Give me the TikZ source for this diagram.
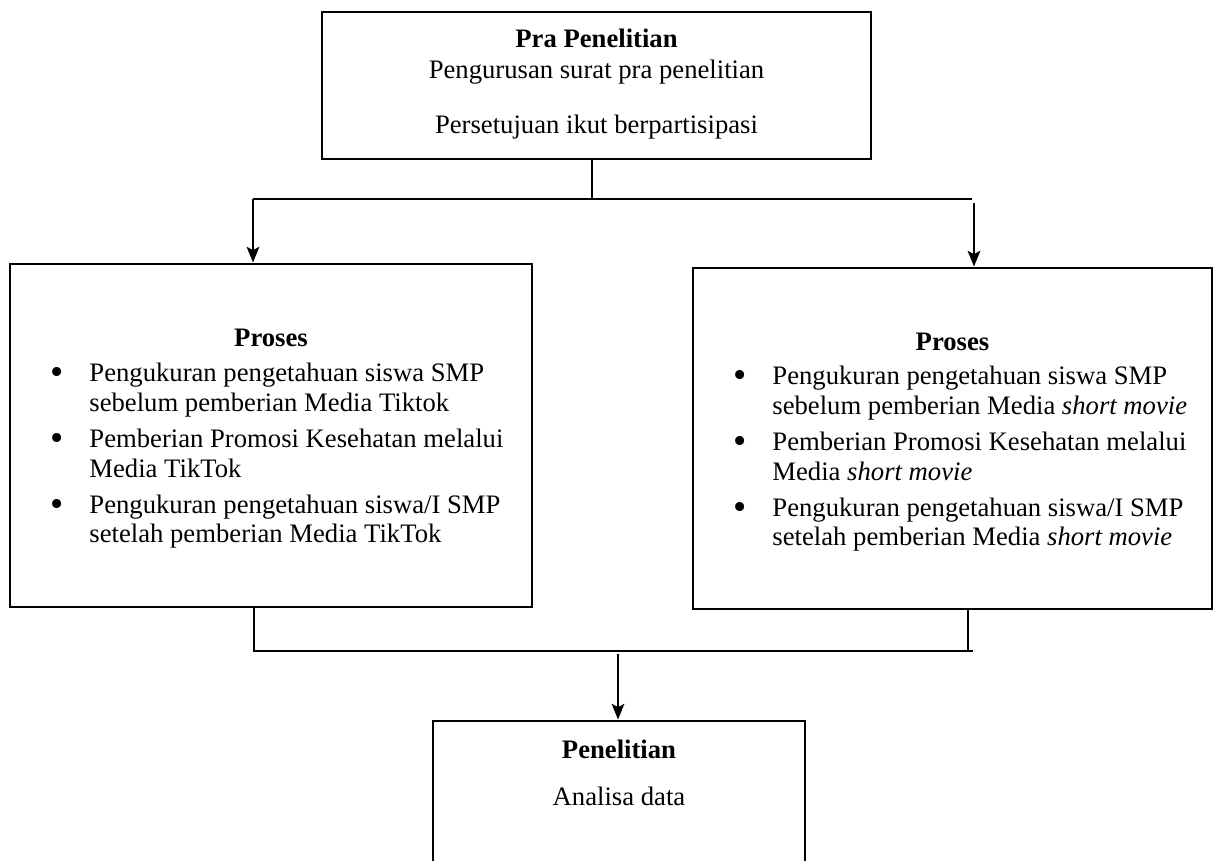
\documentclass[tikz,border=0pt]{standalone}
\usepackage{fontspec}
\setmainfont{Liberation Serif}
\usetikzlibrary{arrows.meta,fit}
\begin{document}
\begin{tikzpicture}[x=0.45pt,y=-0.45pt,
  box/.style={draw, line width=1.3pt, inner sep=0pt},
  conn/.style={line width=0.85pt},
  arr/.style={line width=1.2pt, -{Stealth[length=7pt,width=5.6pt,inset=1.4pt]}},
  txt/.style={font=\fontsize{12}{13.5}\selectfont, inner sep=0pt},
  bold/.style={font=\fontsize{12}{13.5}\selectfont\bfseries, inner sep=0pt},
  bul/.style={font=\fontsize{17}{17}\selectfont, inner sep=0pt},
]
\useasboundingbox (0,0) rectangle (1213,861);
\clip (0,0) rectangle (1213,861);

% boxes
\node[box, fit={(322,12) (871,159)}] (top) {};
\node[box, fit={(10,264) (532,607)}] (left) {};
\node[box, fit={(693,268) (1212,609)}] (right) {};
\node[box, fit={(433,721) (805,905)}] (bottom) {};

% top box text
\node[bold, anchor=base] (t1) at (596.5,47) {Pra Penelitian};
\node[txt, anchor=base] (t2) at (596.5,78) {Pengurusan surat pra penelitian};
\node[txt, anchor=base] (t3) at (596.5,133) {Persetujuan ikut berpartisipasi};

% left box text
\node[bold, anchor=base] (lp) at (271,346) {Proses};
\node[bul, anchor=base] (lb1) at (57,384) {•};
\node[bul, anchor=base] (lb2) at (57,450) {•};
\node[bul, anchor=base] (lb3) at (57,516) {•};
\node[txt, anchor=base west] (l1) at (89,381) {Pengukuran pengetahuan siswa SMP};
\node[txt, anchor=base west] (l2) at (89,411) {sebelum pemberian Media Tiktok};
\node[txt, anchor=base west] (l3) at (89,447) {Pemberian Promosi Kesehatan melalui};
\node[txt, anchor=base west] (l4) at (89,477) {Media TikTok};
\node[txt, anchor=base west] (l5) at (89,513) {Pengukuran pengetahuan siswa/I SMP};
\node[txt, anchor=base west] (l6) at (89,542) {setelah pemberian Media TikTok};

% right box text
\node[bold, anchor=base] (rp) at (952.5,350) {Proses};
\node[bul, anchor=base] (rb1) at (740,387) {•};
\node[bul, anchor=base] (rb2) at (740,453) {•};
\node[bul, anchor=base] (rb3) at (740,519) {•};
\node[txt, anchor=base west] (r1) at (772,384) {Pengukuran pengetahuan siswa SMP};
\node[txt, anchor=base west] (r2) at (772,414) {sebelum pemberian Media \textit{short movie}};
\node[txt, anchor=base west] (r3) at (772,450) {Pemberian Promosi Kesehatan melalui};
\node[txt, anchor=base west] (r4) at (772,480) {Media \textit{short movie}};
\node[txt, anchor=base west] (r5) at (772,516) {Pengukuran pengetahuan siswa/I SMP};
\node[txt, anchor=base west] (r6) at (772,545) {setelah pemberian Media \textit{short movie}};

% bottom box text
\node[bold, anchor=base] (bp) at (619,758) {Penelitian};
\node[txt, anchor=base] (ba) at (619,805) {Analisa data};

% connectors
\coordinate (jt) at (592,199);
\coordinate (jl) at (253,199);
\coordinate (jr) at (972,199);
\coordinate (ar) at (974,203);
\draw[conn] (top.south -| jt) -- (jt);
\draw[conn] (jl) -- (jr);
\draw[arr] (jl) -- (jl |- left.north);
\draw[arr] (ar) -- (ar |- right.north);

\coordinate (bl) at (254,651);
\coordinate (br) at (973,651);
\coordinate (bv) at (968,651);
\coordinate (bd) at (618,654);
\draw[conn] (left.south -| bl) -- (bl) -- (br);
\draw[conn] (right.south -| bv) -- (bv);
\draw[arr] (bd) -- (bd |- bottom.north);
\end{tikzpicture}
\end{document}
